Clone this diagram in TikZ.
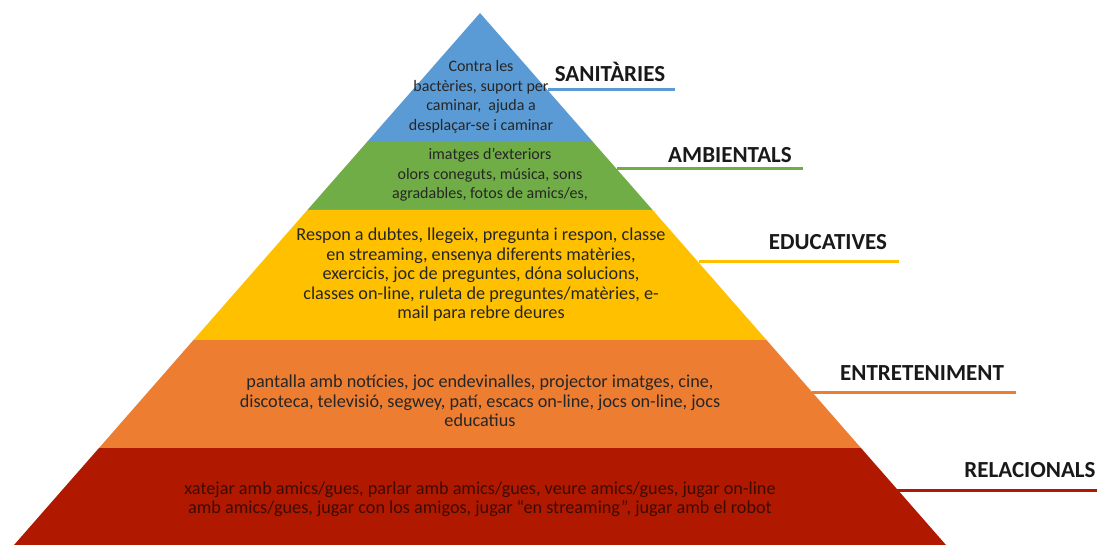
\documentclass[tikz,border=0pt]{standalone}
\usepackage{fontspec}
\setmainfont{Carlito}
\definecolor{cblue}{HTML}{5B9BD5}
\definecolor{cgreen}{HTML}{70AD47}
\definecolor{cyellow}{HTML}{FFC000}
\definecolor{corange}{HTML}{ED7D31}
\definecolor{cred}{HTML}{B01900}
\definecolor{ctext}{HTML}{262626}
\definecolor{credtext}{HTML}{3C0C04}
\begin{document}
\begin{tikzpicture}[x=1pt,y=-1pt,
  body/.style={align=center,text=ctext,font=\fontsize{16}{19.5}\selectfont,inner sep=0pt},
  bodyl/.style={body,font=\fontsize{18.2}{19.5}\selectfont},
  lbl/.style={text=black!90,font=\fontsize{23}{26}\selectfont\bfseries,inner sep=0pt},
  rule/.style={line width=3pt}]
\useasboundingbox (0,0) rectangle (1097,545);
% pyramid levels
\fill[cblue]   (480,13) -- (593,142) -- (367,142) -- cycle;
\fill[cgreen]  (367,142) -- (593,142) -- (652.6,210) -- (307.4,210) -- cycle;
\fill[cyellow] (307.4,210) -- (652.6,210) -- (766.5,340) -- (193.5,340) -- cycle;
\fill[corange] (193.5,340) -- (766.5,340) -- (861,448) -- (99,448) -- cycle;
\fill[cred]    (99,448) -- (861,448) -- (946,545) -- (14,545) -- cycle;
% texts
\node[body] (t1) at (481,97) {Contra les\\bact\`eries, suport per\\caminar,\ \ ajuda a\\despla\c{c}ar-se i caminar};
\node[body] (t2) at (490,175) {imatges d’exteriors\\olors coneguts, m\'usica, sons\\agradables, fotos de amics/es,};
\node[bodyl] (t3) at (481,275) {Respon a dubtes, llegeix, pregunta i respon, classe\\en streaming, ensenya diferents mat\`eries,\\exercicis, joc de preguntes, d\'ona solucions,\\classes on-line, ruleta de preguntes/mat\`eries, e-\\mail para rebre deures};
\node[bodyl] (t4) at (480,401) {pantalla amb not\'icies, joc endevinalles, projector imatges, cine,\\discoteca, televisi\'o, segwey, pat\'i, escacs on-line, jocs on-line, jocs\\educatius};
\node[bodyl,text=credtext] (t5) at (480,499) {xatejar amb amics/gues, parlar amb amics/gues, veure amics/gues, jugar on-line\\amb amics/gues, jugar con los amigos, jugar “en streaming”, jugar amb el robot};
% labels
\node[lbl] (l1) at (610,72) {SANIT\`ARIES};
\node[lbl] (l2) at (730,155) {AMBIENTALS};
\node[lbl] (l3) at (828,242) {EDUCATIVES};
\node[lbl] (l4) at (922,373) {ENTRETENIMENT};
\node[lbl] (l5) at (1030,470) {RELACIONALS};
% rules
\coordinate (a1) at (548,90);  \coordinate (b1) at (675,90);
\coordinate (a2) at (617,169); \coordinate (b2) at (803,169);
\coordinate (a3) at (699,262); \coordinate (b3) at (899,262);
\coordinate (a4) at (812,392); \coordinate (b4) at (1016,392);
\coordinate (a5) at (880,490); \coordinate (b5) at (1097,490);
\draw[rule,cblue] (a1) -- (b1);
\draw[rule,cgreen] (a2) -- (b2);
\draw[rule,cyellow] (a3) -- (b3);
\draw[rule,corange] (a4) -- (b4);
\draw[rule,cred] (a5) -- (b5);
\end{tikzpicture}
\end{document}
